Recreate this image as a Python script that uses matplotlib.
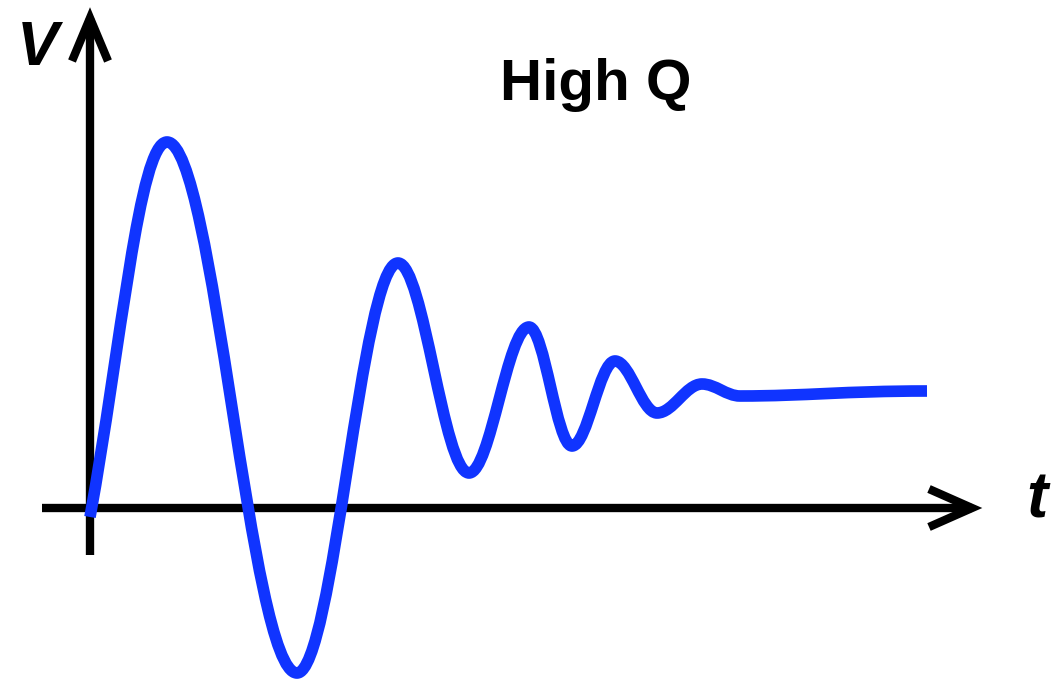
import matplotlib
matplotlib.use("Agg")
import matplotlib.pyplot as plt
from matplotlib.path import Path
from matplotlib.patches import PathPatch

# Damped response (High Q): start, successive extrema, end of the trace
t_pts = [0.00, 0.77, 2.07, 3.08, 3.79, 4.39, 4.82, 5.25, 5.67, 6.12, 6.50, 8.37]
v_pts = [-0.09, 3.66, -1.65, 2.45, 0.35, 1.81, 0.62, 1.47, 0.95, 1.24, 1.12, 1.17]

title_text = "High Q"
x_label = "t"
y_label = "V"

BLUE = "#1034ff"

fig = plt.figure(figsize=(10.57, 6.79), dpi=100)
ax = fig.add_axes([0, 0, 1, 1])
ax.set_xlim(-0.90, 9.67)
ax.set_ylim(-1.71, 5.08)
ax.axis("off")

# --- axes with open arrowheads ---
ax_lw = 6.0
ax.plot([-0.48, 8.82], [0, 0], color="black", lw=ax_lw, solid_capstyle="butt", zorder=1)
ax.plot([0, 0], [-0.47, 4.90], color="black", lw=ax_lw, solid_capstyle="butt", zorder=1)
ax.plot([8.39, 8.82, 8.39], [0.19, 0, -0.19], color="black", lw=ax_lw,
        solid_joinstyle="miter", solid_capstyle="butt", zorder=1)
ax.plot([-0.18, 0, 0.18], [4.47, 4.90, 4.47], color="black", lw=ax_lw,
        solid_joinstyle="miter", solid_capstyle="butt", zorder=1)

# --- smooth curve through extrema via cubic Beziers ---
verts = [(t_pts[0], v_pts[0])]
codes = [Path.MOVETO]
n = len(t_pts)
for i in range(n - 1):
    x0, y0 = t_pts[i], v_pts[i]
    x1, y1 = t_pts[i + 1], v_pts[i + 1]
    dx, dy = x1 - x0, y1 - y0
    if i == 0:
        c1 = (x0 + 0.40 * dx, y0 + 0.45 * dy)
    else:
        c1 = (x0 + 0.36 * dx, y0)
    if i == n - 2:
        c2 = (x1 - 0.45 * dx, y1)
    else:
        c2 = (x1 - 0.36 * dx, y1)
    verts += [c1, c2, (x1, y1)]
    codes += [Path.CURVE4] * 3
patch = PathPatch(Path(verts, codes), fill=False, edgecolor=BLUE, lw=8.4,
                  capstyle="butt", joinstyle="round", zorder=2)
ax.add_patch(patch)

# --- text ---
ax.text(-0.52, 4.43, y_label, fontsize=45, fontweight="bold", fontstyle="italic",
        family="Liberation Sans", ha="center", va="baseline")
ax.text(9.47, -0.09, x_label, fontsize=46, fontweight="bold", fontstyle="italic",
        family="Liberation Sans", ha="center", va="baseline")
ax.text(5.06, 4.08, title_text, fontsize=42, fontweight="bold",
        family="Liberation Sans", ha="center", va="baseline")

fig.savefig("out.png", dpi=100)
